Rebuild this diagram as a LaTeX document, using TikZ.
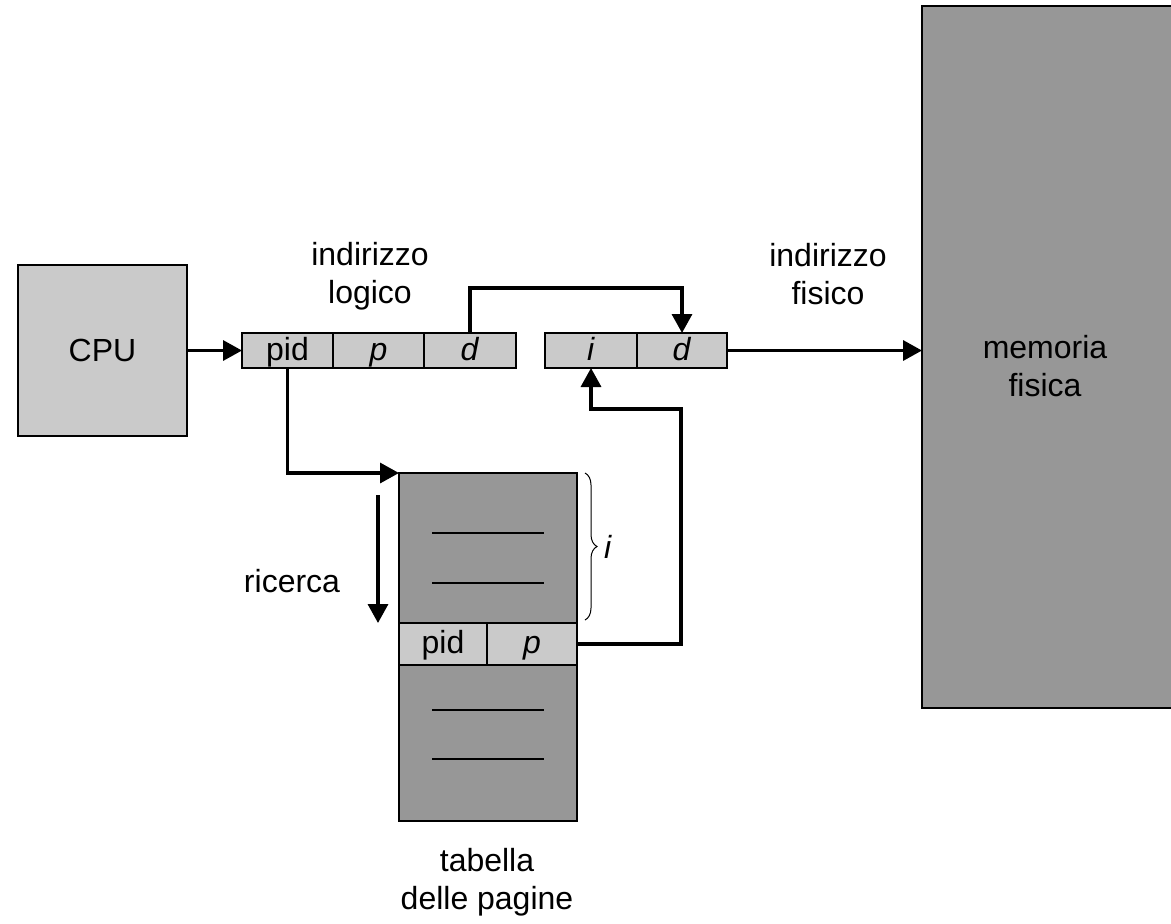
\documentclass[tikz,border=0pt]{standalone}
\usepackage{fontspec}
\setmainfont{Liberation Sans}
\usetikzlibrary{arrows.meta,decorations.pathreplacing}
\definecolor{lightbox}{HTML}{CACACA}
\definecolor{darkbox}{HTML}{979797}
\begin{document}
\begin{tikzpicture}[x=0.5pt, y=-0.5pt, font=\fontsize{16}{19}\selectfont,
    box/.style={draw, line width=0.9pt, inner sep=0pt, outer sep=0pt},
    cell/.style={box, fill=lightbox, minimum height=17.5pt, text height=13pt, text depth=3.5pt},
    arrow/.style={-{Triangle[length=9.5pt,width=10pt]}, line width=1.7pt},
    label/.style={align=center}]
      \useasboundingbox (0,0) rectangle (1171,923);
      % CPU and logical address
      \node[box, fill=lightbox, minimum width=84.5pt, minimum height=85.5pt] (cpu) at (102.5,350.5) {CPU};
      \node[cell, minimum width=45.5pt] (lpid) at (287.5,350.5) {pid};
      \node[cell, minimum width=45.5pt] (lp) at (378.5,350.5) {\textit{p}};
      \node[cell, minimum width=46pt] (ld) at (470,350.5) {\textit{d}};
      \node[label] (llabel) at (370,276) {indirizzo\\logico};
      % physical address
      \node[cell, minimum width=46pt] (pi) at (591,350.5) {\textit{i}};
      \node[cell, minimum width=45pt] (pd) at (682,350.5) {\textit{d}};
      \node[label] (plabel) at (828,274) {indirizzo\\fisico};
      % physical memory (cut by the right edge)
      \node[box, fill=darkbox, minimum width=129pt, minimum height=351pt] (mem) at (1051,357) {};
      \node[label] (memtext) at (1045,366) {memoria\\fisica};
      % page table
      \node[box, fill=darkbox, minimum width=89pt, minimum height=174pt] (table) at (488,647) {};
      \node[cell, minimum width=44pt, minimum height=21pt] (tpid) at (443,644) {pid};
      \node[cell, minimum width=45pt, minimum height=21pt] (tp) at (532,644) {\textit{p}};
      \foreach \y in {533,583,710,759}
        \draw[line width=1pt] (432,\y) -- (544,\y);
      \node[label] (tlabel) at (487,882) {tabella\\delle pagine};
      \draw[decorate, decoration={brace, amplitude=6pt}, line width=0.5pt] (585,473) -- (585,620)
        node[midway, right=6pt] (ilabel) {\textit{i}};
      % search
      \coordinate (srchtop) at (378,495);
      \draw[arrow] (srchtop) -- (srchtop |- tpid.north);
      \node (srch) at (292,581) {ricerca};
      % connectors
      \draw[arrow] (cpu.east) -- (lpid.west);
      \draw[arrow] (lpid.south) |- (table.north west);
      \draw[arrow] (ld.north) -- ++(0,-45) -| (pd.north);
      \draw[arrow] (tp.east) -- ++(104,0) -- ++(0,-235) -| (pi.south);
      \draw[arrow] (pd.east) -- (pd.east -| mem.west);
    \end{tikzpicture}
\end{document}
